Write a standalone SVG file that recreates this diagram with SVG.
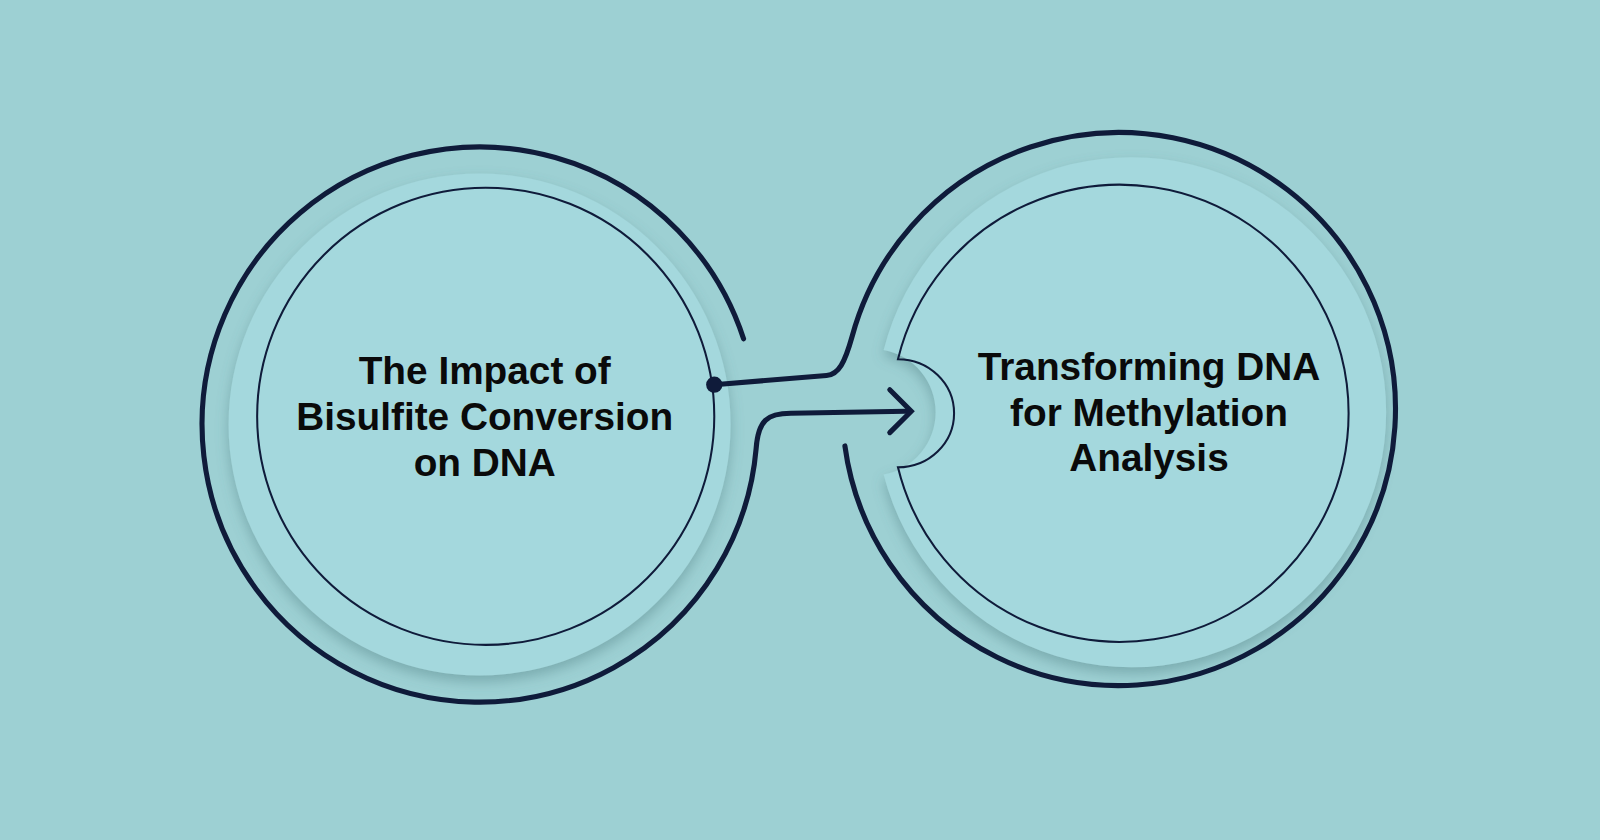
<svg xmlns="http://www.w3.org/2000/svg" width="1600" height="840" viewBox="0 0 1600 840">
<defs>
<style>
.ring{fill:none;stroke:#0f1b3a;stroke-width:5;stroke-linecap:round}
.thin{fill:none;stroke:#0f1b3a;stroke-width:2}
.disc{fill:#a4d8dd;filter:url(#sh)}
.t{font-family:"Liberation Sans",Arial,sans-serif;font-weight:bold;font-size:38px;fill:#0a0a0a;text-anchor:middle}
</style>
<filter id="sh" x="-20%" y="-20%" width="140%" height="140%"><feDropShadow dx="0" dy="6" stdDeviation="6" flood-color="#4f7f82" flood-opacity="0.45"/></filter>
</defs>
<rect width="1600" height="840" fill="#9dd0d3"/>
<g transform="scale(1.0204)">
<g id="node-left">
<circle class="disc" cx="470" cy="416" r="246"/>
<circle class="thin" cx="476" cy="408" r="224"/>
<text class="t" x="475" y="376">The Impact of</text>
<text class="t" x="475" y="421">Bisulfite Conversion</text>
<text class="t" x="475" y="466">on DNA</text>
</g>
<g id="node-right">
<path class="disc" d="M866,343 A250 250 0 1 1 866,465 A62 62 0 0 0 866,343 Z"/>
<path class="thin" d="M880,352 A55 53 0 0 1 880,458 A224 224 0 1 0 880,352 Z"/>
<text class="t" x="1126" y="372">Transforming DNA</text>
<text class="t" x="1126" y="417">for Methylation</text>
<text class="t" x="1126" y="462">Analysis</text>
</g>
<g id="connectors">
<path class="ring" d="M728.7,332 A272 272 0 1 0 741,439.7 C743,412 752,405 775,405 L888,403"/>
<path class="ring" d="M872,382 L893,403 L872,424"/>
<path class="ring" d="M828,437 A271 271 0 1 0 835,330 C828,355 822,367 810,368 L700,377"/>
<circle cx="700" cy="377" r="8" fill="#0f1b3a"/>
</g>
</g>
</svg>
